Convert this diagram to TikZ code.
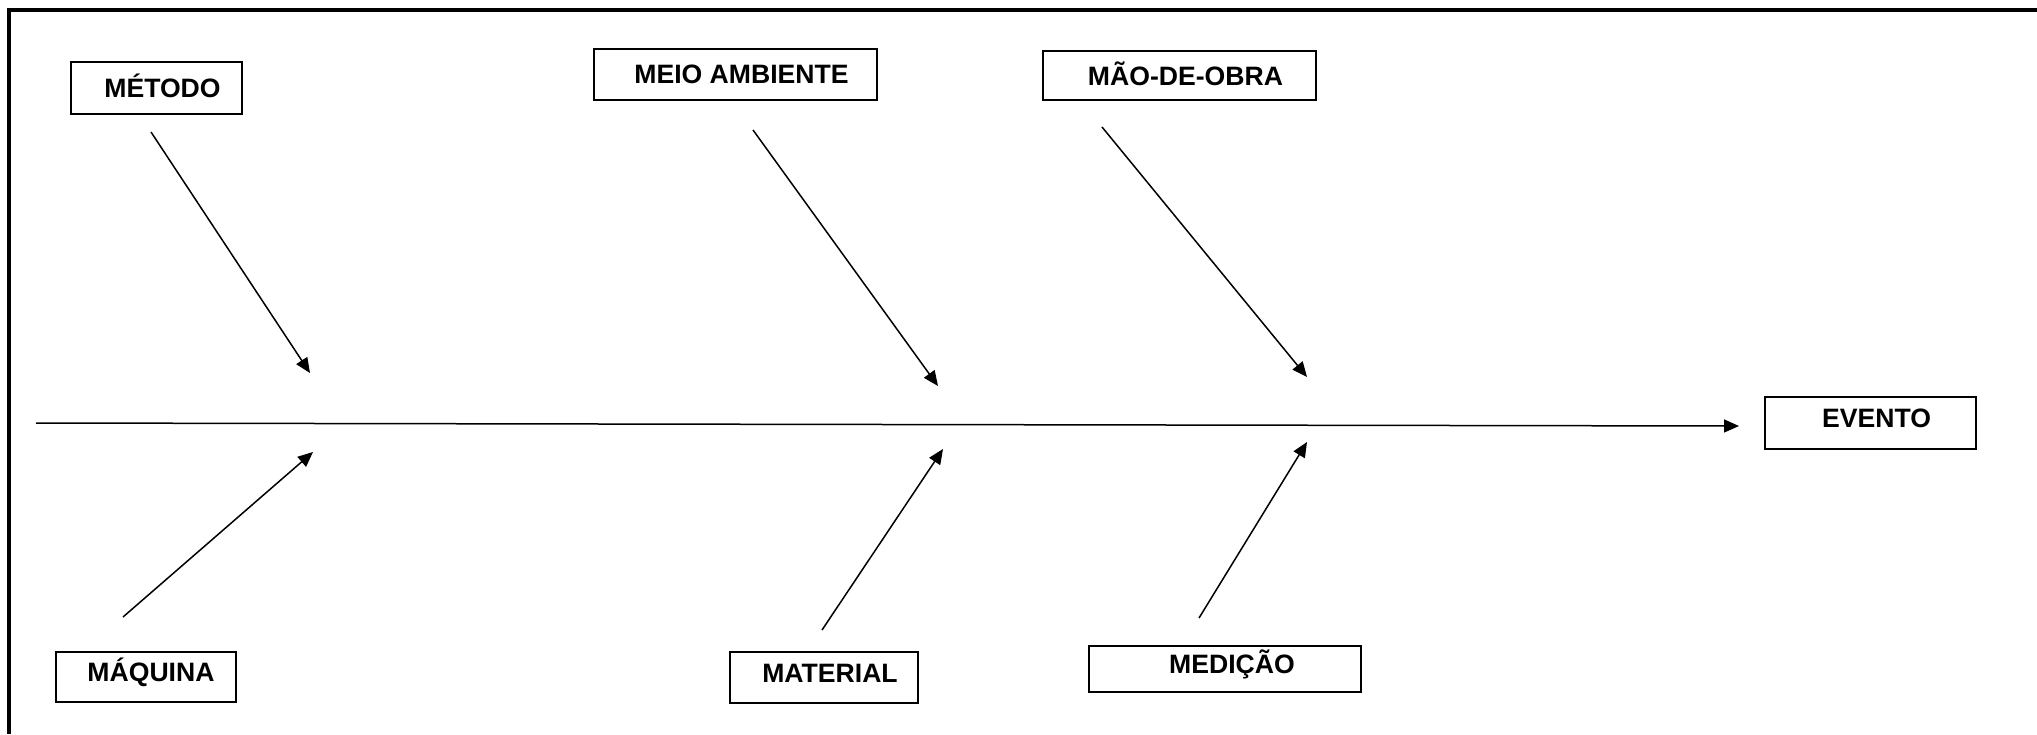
\documentclass[tikz,border=0pt]{standalone}
\usepackage{fontspec}
\setmainfont{Liberation Sans}
\usetikzlibrary{arrows.meta}
\begin{document}
\begin{tikzpicture}[x=0.5pt,y=-0.5pt,
  box/.style={draw,line width=0.9pt,inner sep=0pt,text height=9.5pt,text depth=0pt,
    font=\fontsize{13.3}{16}\selectfont\bfseries},
  arr/.style={line width=0.75pt,-{Triangle[length=7.5pt,width=6.5pt]}},
  frame/.style={line width=2pt}]
\useasboundingbox (0,0) rectangle (2037,734);
% frame (top and left edges visible)
\draw[frame] (9,734) -- (9,10) -- (2037,10);
% boxes
\node[box,minimum width=85.5pt,minimum height=26pt] (metodo) at (156.5,88) {\hspace*{6pt}MÉTODO};
\node[box,minimum width=141.5pt,minimum height=25.5pt] (meio) at (735.5,74.5) {\hspace*{6pt}\raisebox{0.5pt}{MEIO AMBIENTE}};
\node[box,minimum width=136.5pt,minimum height=24.5pt] (mao) at (1179.5,75.5) {\hspace*{6pt}MÃO-DE-OBRA};
\node[box,minimum width=105.5pt,minimum height=26pt] (evento) at (1870.5,423) {\hspace*{6pt}\raisebox{2.5pt}{EVENTO}};
\node[box,minimum width=90pt,minimum height=25pt] (maquina) at (146,677) {\hspace*{5pt}\raisebox{2.3pt}{MÁQUINA}};
\node[box,minimum width=94pt,minimum height=25.5pt] (material) at (824,677.5) {\hspace*{6pt}\raisebox{2.3pt}{MATERIAL}};
\node[box,minimum width=136pt,minimum height=23pt] (medicao) at (1225,669) {\hspace*{7pt}\raisebox{2.5pt}{MEDIÇÃO}};
% arrow end points
\coordinate (s0) at (36,423);
\coordinate (s1) at (1739,426);
\coordinate (a1) at (151,132);  \coordinate (b1) at (310,373);
\coordinate (a2) at (753,130);  \coordinate (b2) at (938,386);
\coordinate (a3) at (1102,127); \coordinate (b3) at (1307,377);
\coordinate (a4) at (123,617);  \coordinate (b4) at (313,452);
\coordinate (a5) at (822,630);  \coordinate (b5) at (943,449);
\coordinate (a6) at (1199,618); \coordinate (b6) at (1307,442);
% arrows
\draw[arr] (s0) -- (s1);
\draw[arr] (a1) -- (b1);
\draw[arr] (a2) -- (b2);
\draw[arr] (a3) -- (b3);
\draw[arr] (a4) -- (b4);
\draw[arr] (a5) -- (b5);
\draw[arr] (a6) -- (b6);
\end{tikzpicture}
\end{document}
